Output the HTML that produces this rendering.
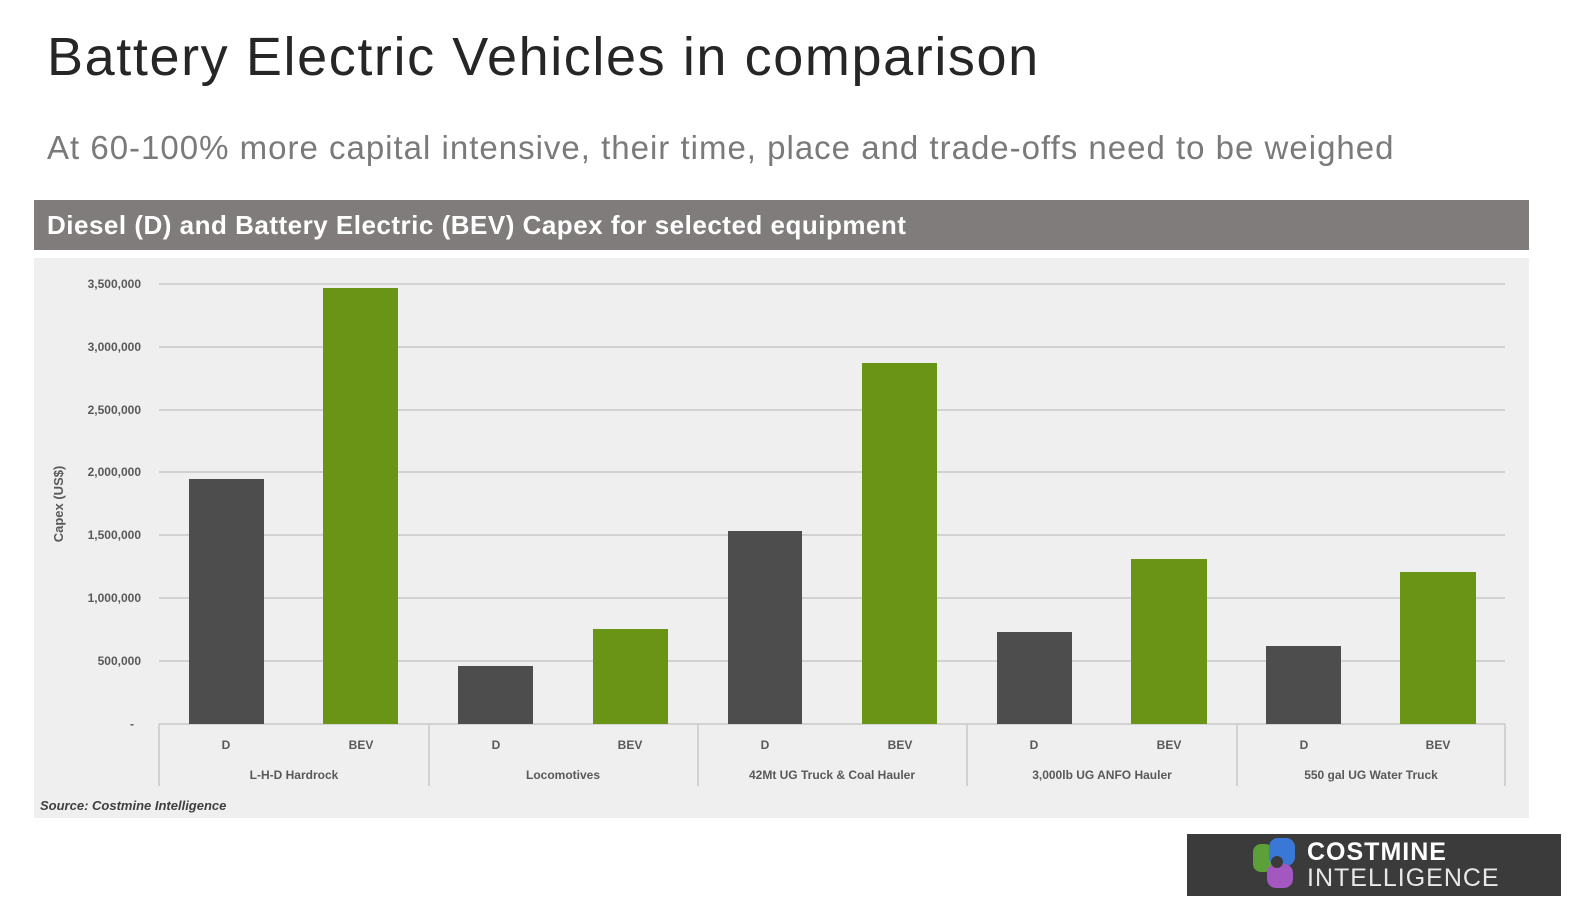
<!DOCTYPE html>
<html><head><meta charset="utf-8"><style>
body{margin:0;width:1581px;height:915px;background:#fff;overflow:hidden;font-family:"Liberation Sans",sans-serif;position:relative}
.t{position:absolute;left:47px;top:26px;font-size:54px;letter-spacing:1.6px;color:#262626;white-space:nowrap}
.s{position:absolute;left:47px;top:129px;font-size:33px;letter-spacing:1px;color:#7a7a7a;white-space:nowrap}
.hdr{position:absolute;left:34px;top:200px;width:1495px;height:50px;background:#7f7c7b;color:#fff;font-weight:bold;font-size:26px;letter-spacing:0.5px;line-height:50px;box-sizing:border-box;padding-left:13px}
.panel{position:absolute;left:34px;top:258px;width:1495px;height:560px;background:#efefef}
.logo{position:absolute;left:1187px;top:834px;width:374px;height:62px;background:#3c3b3b}
</style></head><body>
<div class="t">Battery Electric Vehicles in comparison</div>
<div class="s">At 60-100% more capital intensive, their time, place and trade-offs need to be weighed</div>
<div class="hdr">Diesel (D) and Battery Electric (BEV) Capex for selected equipment</div>
<div class="panel"></div>
<svg width="1581" height="915" style="position:absolute;left:0;top:0" font-family="Liberation Sans, sans-serif">
<g stroke="#c8c8c8" stroke-width="1.5">
<line x1="159" x2="1505" y1="284" y2="284"/><line x1="159" x2="1505" y1="347" y2="347"/>
<line x1="159" x2="1505" y1="410" y2="410"/><line x1="159" x2="1505" y1="472" y2="472"/>
<line x1="159" x2="1505" y1="535" y2="535"/><line x1="159" x2="1505" y1="598" y2="598"/>
<line x1="159" x2="1505" y1="661" y2="661"/><line x1="159" x2="1505" y1="724" y2="724"/>
<line x1="159" x2="159" y1="724" y2="786"/><line x1="429" x2="429" y1="724" y2="786"/>
<line x1="698" x2="698" y1="724" y2="786"/><line x1="967" x2="967" y1="724" y2="786"/>
<line x1="1237" x2="1237" y1="724" y2="786"/><line x1="1505" x2="1505" y1="724" y2="786"/>
</g>
<g font-size="12" font-weight="bold" fill="#595959" text-anchor="end">
<text x="141" y="288">3,500,000</text><text x="141" y="351">3,000,000</text>
<text x="141" y="414">2,500,000</text><text x="141" y="476">2,000,000</text>
<text x="141" y="539">1,500,000</text><text x="141" y="602">1,000,000</text>
<text x="141" y="665">500,000</text><text x="134" y="728">-</text>
</g>
<text transform="translate(63,504) rotate(-90)" font-size="13" fill="#595959" text-anchor="middle" font-weight="bold">Capex (US$)</text>
<g fill="#4d4d4d">
<rect x="189" y="479" width="75" height="245"/><rect x="458" y="666" width="75" height="58"/>
<rect x="728" y="531" width="74" height="193"/><rect x="997" y="632" width="75" height="92"/>
<rect x="1266" y="646" width="75" height="78"/>
</g>
<g fill="#6a9416">
<rect x="323" y="288" width="75" height="436"/><rect x="593" y="629" width="75" height="95"/>
<rect x="862" y="363" width="75" height="361"/><rect x="1131" y="559" width="76" height="165"/>
<rect x="1400" y="572" width="76" height="152"/>
</g>
<g font-size="12" font-weight="bold" fill="#595959" text-anchor="middle">
<text x="226" y="749">D</text><text x="361" y="749">BEV</text>
<text x="496" y="749">D</text><text x="630" y="749">BEV</text>
<text x="765" y="749">D</text><text x="900" y="749">BEV</text>
<text x="1034" y="749">D</text><text x="1169" y="749">BEV</text>
<text x="1304" y="749">D</text><text x="1438" y="749">BEV</text>
<text x="294" y="779">L-H-D Hardrock</text><text x="563" y="779">Locomotives</text>
<text x="832" y="779">42Mt UG Truck &amp; Coal Hauler</text><text x="1102" y="779">3,000lb UG ANFO Hauler</text>
<text x="1371" y="779">550 gal UG Water Truck</text>
</g>
<text x="40" y="810" font-size="13" font-style="italic" font-weight="bold" fill="#404040">Source: Costmine Intelligence</text>
</svg>
<div class="logo">
<div style="position:absolute;left:66px;top:10px;width:20px;height:28px;background:#5da03a;border-radius:8px"></div>
<div style="position:absolute;left:82px;top:4px;width:26px;height:28px;background:#3a78d8;border-radius:9px"></div>
<div style="position:absolute;left:80px;top:30px;width:26px;height:24px;background:#a357c0;border-radius:9px"></div>
<div style="position:absolute;left:84px;top:22px;width:12px;height:12px;background:#3c3b3b;border-radius:6px"></div>
<div style="position:absolute;left:120px;top:5px;color:#fff;font-size:25px;font-weight:bold;letter-spacing:1px;line-height:26px">COSTMINE</div>
<div style="position:absolute;left:120px;top:30px;color:#e8e8e8;font-size:25px;letter-spacing:1px;line-height:28px">INTELLIGENCE</div>
</div>
</body></html>
